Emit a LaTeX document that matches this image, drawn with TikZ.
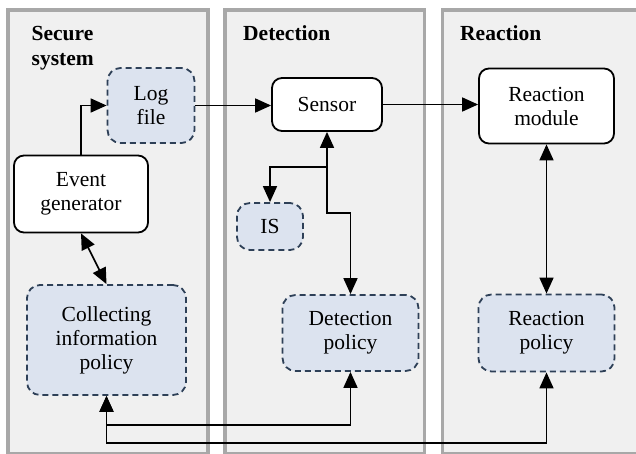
\documentclass[tikz,border=0pt]{standalone}
\usepackage{fontspec}
\setmainfont{Liberation Serif}
\usetikzlibrary{arrows.meta}

\definecolor{panelfill}{HTML}{F0F0F0}
\definecolor{panelline}{HTML}{A8A8A8}
\definecolor{policyfill}{HTML}{DCE3EF}
\definecolor{policyline}{HTML}{2E4057}

\tikzset{
  panel/.style={fill=panelfill, draw=panelline, line width=3.5pt},
  title/.style={anchor=base west, inner sep=0pt, font=\fontsize{21.5}{24}\selectfont\bfseries},
  boxtext/.style={align=center, inner sep=0pt, font=\fontsize{21.5}{24}\selectfont},
  modulebox/.style={boxtext, draw=black, fill=white, line width=1.8pt, rounded corners=10pt},
  policybox/.style={boxtext, draw=policyline, fill=policyfill, line width=1.8pt,
    dash pattern=on 6pt off 4pt, rounded corners=13pt},
  link/.style={line width=1.7pt, -{Triangle[length=16pt,width=14pt]}},
  duplex/.style={line width=1.7pt, {Triangle[length=16pt,width=14pt]}-{Triangle[length=16pt,width=14pt]}},
}

\begin{document}
\begin{tikzpicture}[x=1pt, y=-1pt]
  \useasboundingbox (0,0) rectangle (636,453);
  \begin{scope}
    \clip (0,0) rectangle (636,453);
    % three stages
    \draw[panel] (8,10) rectangle (208,453.5);
    \draw[panel] (225,10) rectangle (424.5,453.5);
    \draw[panel] (442.5,10) rectangle (660,453.5);
  \end{scope}

  % stage titles
  \node[title] (tsec1) at (31.5,40) {Secure};
  \node[title] (tsec2) at (31.5,65) {system};
  \node[title] (tdet)  at (243,40) {Detection};
  \node[title] (treac) at (460,40) {Reaction};

  % components
  \node[policybox, minimum width=87pt,  minimum height=75pt]  (log)      at (151,105.5) {Log\\file};
  \node[modulebox, minimum width=134pt, minimum height=77pt]  (event)    at (81,194)    {Event\\generator};
  \node[policybox, minimum width=159pt, minimum height=110pt] (collect)  at (106.5,340) {Collecting\\information\\policy};
  \node[modulebox, minimum width=110pt, minimum height=53pt]  (sensor)   at (327,104.5) {Sensor};
  \node[policybox, minimum width=66pt,  minimum height=47pt]  (is)       at (270,226.5) {IS};
  \node[policybox, minimum width=136pt, minimum height=76pt]  (detpol)   at (350.5,333) {Detection\\policy};
  \node[modulebox, minimum width=135pt, minimum height=75pt]  (reactmod) at (546.5,106) {Reaction\\module};
  \node[policybox, minimum width=136pt, minimum height=77pt]  (reactpol) at (546.5,333) {Reaction\\policy};

  % routing points
  \coordinate (split) at (327,167);
  \coordinate (bend)  at (327,213);
  \coordinate (low1)  at (350.5,425);
  \coordinate (low2)  at (546.5,443);

  % data flow
  \draw[link] (event.north) |- (log.west);
  \draw[link] (log.east) -- (log.east -| sensor.west);
  \draw[link] (sensor.east) -- (sensor.east -| reactmod.west);
  \draw[duplex] (sensor.south) -- (bend) -| (detpol.north);
  \draw[link] (split) -| (is.north);
  \draw[duplex] (event.south) -- (collect.north);
  \draw[duplex] (reactmod.south) -- (reactpol.north);
  \draw[duplex] (collect.south) |- (low1) -- (detpol.south);
  \draw[duplex] (collect.south) |- (low2) -- (reactpol.south);
\end{tikzpicture}
\end{document}
